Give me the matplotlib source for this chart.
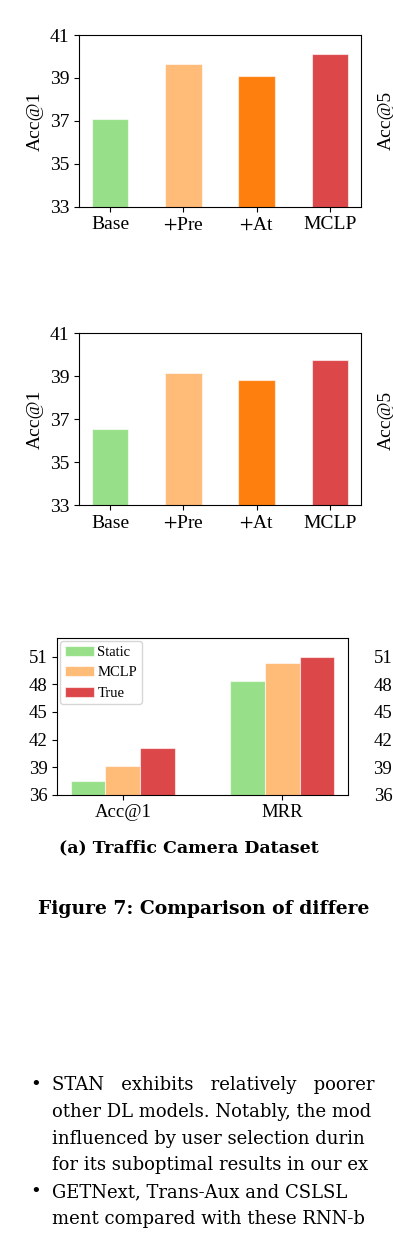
import matplotlib
matplotlib.use('Agg')
import matplotlib.pyplot as plt
import numpy as np

plt.rcParams['font.family'] = ['Liberation Serif', 'DejaVu Serif']
plt.rcParams['mathtext.fontset'] = 'stix'

# ablation data (two datasets)
variants = ['Base', r'$+$Pre', r'$+$At', 'MCLP']
acc1_top = [37.07, 39.65, 39.09, 40.10]
acc1_mid = [36.53, 39.14, 38.84, 39.76]
bar_colors = ['#98df8a', '#ffbb78', '#ff7f0e', '#dc474a']

# static vs dynamic comparison
metrics = ['Acc@1', 'MRR']
static_vals = [37.52, 48.35]
mclp_vals = [39.09, 50.31]
true_vals = [41.08, 51.00]
group_names = ['Static', 'MCLP', 'True']
group_colors = ['#98df8a', '#ffbb78', '#dc474a']

W, H = 393, 1241
fig = plt.figure(figsize=(W / 100, H / 100), dpi=100)


def box(left, top, right, bottom):
    return [left / W, 1 - bottom / H, (right - left) / W, (bottom - top) / H]


def ablation(ax, vals):
    x = np.arange(len(variants))
    ax.bar(x, vals, width=0.5, color=bar_colors, edgecolor=(1, 1, 1, 0.6), linewidth=0.8)
    ax.set_ylim(33, 41)
    ax.set_yticks([33, 35, 37, 39, 41])
    ax.set_xticks(x)
    ax.set_xticklabels(variants)
    ax.set_ylabel('Acc@1', fontsize=14)
    ax.tick_params(labelsize=14)


ax1 = fig.add_axes(box(79, 35, 361, 206.7))
ablation(ax1, acc1_top)
ax2 = fig.add_axes(box(79, 333.3, 361, 505))
ablation(ax2, acc1_mid)

# neighbour panel labels at the right edge
fig.text(386 / W, 1 - 120 / H, 'Acc@5', rotation=90, fontsize=14, ha='center', va='center')
fig.text(386 / W, 1 - 420 / H, 'Acc@5', rotation=90, fontsize=14, ha='center', va='center')

ax3 = fig.add_axes(box(57.3, 638.3, 347.7, 794.7))
x = np.arange(len(metrics))
w = 0.22
for i, (vals, name, c) in enumerate(zip([static_vals, mclp_vals, true_vals], group_names, group_colors)):
    ax3.bar(x + (i - 1) * w, vals, width=w, color=c, label=name,
            edgecolor=(1, 1, 1, 0.6), linewidth=0.8)
ax3.set_ylim(36, 53)
ax3.set_yticks([36, 39, 42, 45, 48, 51])
ax3.set_xticks(x)
ax3.set_xticklabels(metrics)
ax3.tick_params(labelsize=13.5)
ax3.legend(loc='upper left', fontsize=10.5, borderaxespad=0.2, borderpad=0.3,
           handletextpad=0.25)

# neighbouring panel, mostly outside the crop
ax4 = fig.add_axes(box(402, 638.3, 690, 794.7))
ax4.set_ylim(36, 53)
ax4.set_yticks([36, 39, 42, 45, 48, 51])
ax4.set_xticks([])
ax4.tick_params(labelsize=13.5)

fig.text(59 / W, 1 - 848 / H, '(a) Traffic Camera Dataset', fontsize=12.5,
         family='DejaVu Serif', fontweight='bold', ha='left', va='center')
fig.text(38 / W, 1 - 909 / H, 'Figure 7: Comparison of differe', fontsize=13.5,
         family='DejaVu Serif', fontweight='bold', ha='left', va='center')

body = [
    ('\u2022', 'STAN   exhibits   relatively   poorer'),
    ('', 'other DL models. Notably, the mod'),
    ('', 'influenced by user selection durin'),
    ('', 'for its suboptimal results in our ex'),
    ('\u2022', 'GETNext, Trans-Aux and CSLSL'),
    ('', 'ment compared with these RNN-b'),
]
for k, (bullet, line) in enumerate(body):
    y = 1085 + k * 26.8
    if bullet:
        fig.text(30 / W, 1 - y / H, bullet, fontsize=13, family='DejaVu Serif',
                 ha='left', va='center')
    fig.text(52 / W, 1 - y / H, line, fontsize=13, family='DejaVu Serif',
             ha='left', va='center')

fig.savefig('out.png', dpi=100)
